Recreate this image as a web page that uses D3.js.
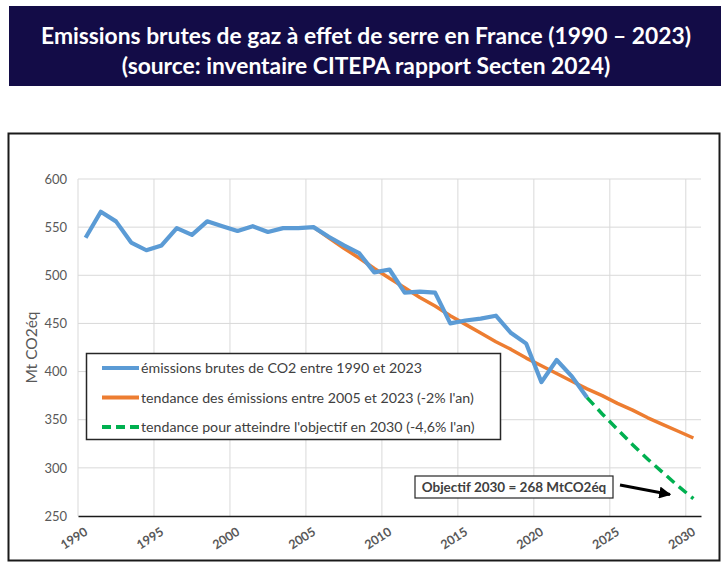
<!DOCTYPE html>
<html><head><meta charset="utf-8">
<script src="https://cdn.jsdelivr.net/npm/d3@7"></script>
<style>
html,body{margin:0;padding:0;background:#fff;}
svg{display:block;font-family:Lato,"Open Sans",sans-serif;}
</style></head>
<body>
<svg id="c" width="728" height="566"></svg>
<script>
// ---- data ----
const titleLines = ["Emissions brutes de gaz à effet de serre en France (1990 – 2023)",
                    "(source: inventaire CITEPA rapport Secten 2024)"];
const years = d3.range(1990, 2031);
const xTickYears = [1990,1995,2000,2005,2010,2015,2020,2025,2030];
const yTicks = [250,300,350,400,450,500,550,600];
const emissionsYears = d3.range(1990, 2024);
const emissions = [539,566,556,534,526,531,549,542,556,551,546,551,545,549,549,550,
                   540,531,523,503,506,482,483,482,450,453,455,458,440,429,389,412,395,373];
const trendYears = d3.range(2005, 2031);
const trend = [550,539,528,518,507,497,487,477,468,458,449,440,431,423,414,406,398,390,
               382,375,367,360,352,345,338,331];
const targetYears = d3.range(2023, 2031);
const target = [373,356,340,324,309,295,281,268];
const legendLabels = ["émissions brutes de CO2 entre 1990 et 2023",
                      "tendance des émissions entre 2005 et 2023 (-2% l'an)",
                      "tendance pour atteindre l'objectif en 2030 (-4,6% l'an)"];
const annotation = "Objectif 2030 = 268 MtCO2éq";
const yTitle = "Mt CO2éq";

const svg = d3.select("#c");

// title banner
svg.append("rect").attr("x",9).attr("y",6).attr("width",712).attr("height",80).attr("fill","#130c47");
svg.selectAll("text.title").data(titleLines).enter().append("text")
  .attr("class","title").attr("x",366).attr("y",(d,i)=>44+i*30)
  .attr("text-anchor","middle").attr("fill","#fff")
  .attr("font-size",22.8).attr("font-weight","bold").text(d=>d);

// chart frame
svg.append("rect").attr("x",8.5).attr("y",133.5).attr("width",711).attr("height",427)
  .attr("fill","#fff").attr("stroke","#1a1a1a").attr("stroke-width",2);

const x = d3.scaleBand().domain(years).range([78,701]).paddingInner(0).paddingOuter(0);
const cx = d => x(d) + x.bandwidth()/2;
const y = d3.scaleLinear().domain([250,600]).range([516,179]);

// gridlines
const g = svg.append("g");
g.selectAll("line.hg").data(yTicks.filter(t=>t>250)).enter().append("line")
  .attr("x1",78).attr("x2",701).attr("y1",d=>y(d)).attr("y2",d=>y(d))
  .attr("stroke","#d9d9d9").attr("stroke-width",1);
g.selectAll("line.vg").data(xTickYears).enter().append("line")
  .attr("x1",d=>x(d)).attr("x2",d=>x(d)).attr("y1",y(600)).attr("y2",y(250))
  .attr("stroke","#d9d9d9").attr("stroke-width",1);

// y axis
const yAxis = d3.axisLeft(y).tickValues(yTicks).tickSize(0).tickPadding(11);
const ya = svg.append("g").attr("transform","translate(78,0)").call(yAxis);
ya.select(".domain").remove();
ya.selectAll("text").attr("font-size",13).attr("fill","#595959").attr("font-family","Lato,sans-serif");

// x axis
const xa = svg.append("g").attr("transform",`translate(0,${y(250)})`)
  .call(d3.axisBottom(x).tickValues(xTickYears).tickSize(0).tickFormat(d3.format("d")));
xa.select(".domain").attr("stroke","#1a1a1a").attr("stroke-width",1.5);
xa.selectAll("text").attr("font-size",12.5).attr("fill","#595959").attr("font-weight","bold")
  .attr("font-family","Lato,sans-serif")
  .attr("text-anchor","end").attr("dy",0).attr("y",0)
  .attr("transform","translate(3,18) rotate(-33)");

// y title
svg.append("text").attr("transform",`translate(37,${(y(600)+y(250))/2}) rotate(-90)`)
  .attr("text-anchor","middle").attr("font-size",15.5).attr("fill","#595959").text(yTitle);

// lines
const line = d3.line().x(d=>cx(d[0])).y(d=>y(d[1]));
svg.append("path").datum(d3.zip(trendYears,trend)).attr("d",line)
  .attr("fill","none").attr("stroke","#ed7d31").attr("stroke-width",3.5).attr("stroke-linejoin","round");
svg.append("path").datum(d3.zip(emissionsYears,emissions)).attr("d",line)
  .attr("fill","none").attr("stroke","#5b9bd5").attr("stroke-width",4.2).attr("stroke-linejoin","round");
svg.append("path").datum(d3.zip(targetYears,target)).attr("d",line)
  .attr("fill","none").attr("stroke","#00b050").attr("stroke-width",3.5).attr("stroke-dasharray","10,6");

// legend
const lg = svg.append("g");
lg.append("rect").attr("x",86.5).attr("y",353.5).attr("width",414).attr("height",86)
  .attr("fill","#fff").attr("stroke","#262626").attr("stroke-width",1.5);
const lstyles = [{c:"#5b9bd5",d:null},{c:"#ed7d31",d:null},{c:"#00b050",d:"9,5"}];
legendLabels.forEach((t,i)=>{
  const yy = 368 + i*29.5;
  lg.append("line").attr("x1",102).attr("x2",139).attr("y1",yy).attr("y2",yy)
    .attr("stroke",lstyles[i].c).attr("stroke-width",4).attr("stroke-dasharray",lstyles[i].d);
  lg.append("text").attr("x",141).attr("y",yy+5).attr("font-size",14.2).attr("fill","#404040").text(t);
});

// annotation
svg.append("rect").attr("x",415).attr("y",476).attr("width",198).attr("height",22)
  .attr("fill","#fff").attr("stroke","#262626").attr("stroke-width",1.2);
svg.append("text").attr("x",514).attr("y",492).attr("text-anchor","middle")
  .attr("font-size",13.5).attr("font-weight","bold").attr("fill","#404040").text(annotation);
svg.append("defs").append("marker").attr("id","ah").attr("viewBox","0 0 10 10")
  .attr("refX",9).attr("refY",5).attr("markerWidth",4).attr("markerHeight",4).attr("orient","auto")
  .append("path").attr("d","M0,0L10,5L0,10z").attr("fill","#000");
svg.append("line").attr("x1",620).attr("y1",485).attr("x2",670).attr("y2",494.5)
  .attr("stroke","#000").attr("stroke-width",3).attr("marker-end","url(#ah)");
</script>
</body></html>
